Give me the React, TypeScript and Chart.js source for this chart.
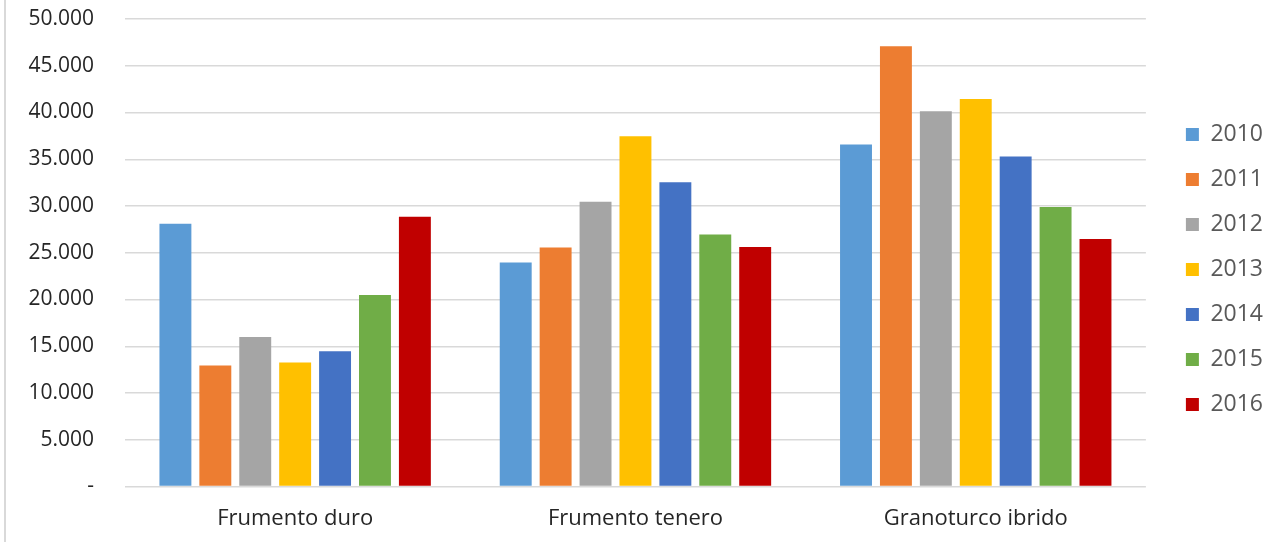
import React, { useEffect, useRef } from "react";
import { Chart, registerables } from "chart.js";

Chart.register(...registerables);

const categories = ["Frumento duro", "Frumento tenero", "Granoturco ibrido"];
const years = ["2010", "2011", "2012", "2013", "2014", "2015", "2016"];
const colors = ["#5B9BD5", "#ED7D31", "#A5A5A5", "#FFC000", "#4472C4", "#70AD47", "#C00000"];

const values2010 = [28100, 23960, 36570];
const values2011 = [12930, 25570, 47080];
const values2012 = [16000, 30450, 40140];
const values2013 = [13250, 37470, 41450];
const values2014 = [14460, 32550, 35290];
const values2015 = [20480, 26960, 29880];
const values2016 = [28850, 25610, 26460];

const seriesValues = [values2010, values2011, values2012, values2013, values2014, values2015, values2016];

const yMax = 50000;
const yStep = 5000;

const FONT = "'Open Sans', 'Noto Sans', sans-serif";

function formatTick(v: number): string {
  if (v === 0) return "-";
  return String(Math.round(v)).replace(/\B(?=(\d{3})+(?!\d))/g, ".");
}

export default function App() {
  const canvasRef = useRef<HTMLCanvasElement | null>(null);

  useEffect(() => {
    if (!canvasRef.current) return;
    const chart = new Chart(canvasRef.current, {
      type: "bar",
      data: {
        labels: categories,
        datasets: years.map((y, i) => ({
          label: y,
          data: seriesValues[i],
          backgroundColor: colors[i],
          borderWidth: 0,
          categoryPercentage: 0.821,
          barPercentage: 0.8,
          yAxisID: "y",
        })),
      },
      options: {
        animation: false,
        responsive: false,
        maintainAspectRatio: false,
        layout: { padding: { top: 7, left: 0, right: -7, bottom: 10 } },
        plugins: {
          tooltip: { enabled: false },
          legend: {
            position: "right",
            align: "center",
            labels: {
              boxWidth: 13,
              boxHeight: 13,
              padding: 22,
              color: "#595959",
              font: { family: FONT, size: 23 },
            },
          },
        },
        scales: {
          x: {
            afterFit: (s: any) => {
              s.height = 45.5;
            },
            grid: { display: false, drawTicks: false },
            border: { display: false },
            ticks: {
              color: "#262626",
              padding: 19.5,
              font: { family: FONT, size: 22 },
            },
          },
          y: {
            min: 0,
            max: yMax,
            afterFit: (s: any) => {
              s.width = 125;
            },
            grid: {
              color: "#d9d9d9",
              lineWidth: 1.5,
              drawTicks: true,
              tickLength: 24.6,
              tickColor: "rgba(0,0,0,0)",
            },
            border: { display: false },
            ticks: {
              stepSize: yStep,
              color: "#262626",
              padding: 6.4,
              font: { family: FONT, size: 21 },
              callback: (v: any) => formatTick(Number(v)),
            },
          },
          ySpacer: {
            position: "right",
            display: true,
            afterFit: (s: any) => {
              s.width = 18;
            },
            grid: { display: false, drawTicks: false },
            border: { display: false },
            ticks: { display: false },
          },
        },
      } as any,
    });
    return () => chart.destroy();
  }, []);

  return (
    <div style={{ position: "fixed", left: 0, top: 0, width: 1266, height: 542, background: "#fff" }}>
      <div style={{ position: "absolute", left: 4, top: 0, width: 2, height: 542, background: "#d9d9d9" }} />
      <canvas ref={canvasRef} width={1266} height={542} style={{ position: "absolute", left: 0, top: 0 }} />
    </div>
  );
}
